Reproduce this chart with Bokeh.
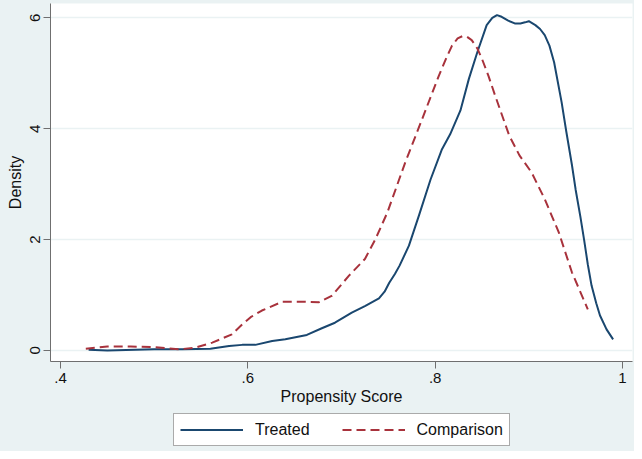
from bokeh.plotting import figure
from bokeh.models import Range1d, FixedTicker, Legend, LegendItem
from bokeh.layouts import column
from bokeh.embed import file_html
from bokeh.resources import INLINE

# Propensity score grid and kernel density values
treated_x = [0.43, 0.45, 0.48, 0.50, 0.53, 0.56, 0.58, 0.594, 0.608, 0.626, 0.640,
             0.663, 0.679, 0.693, 0.711, 0.725, 0.740, 0.746, 0.751, 0.757, 0.762,
             0.772, 0.783, 0.795, 0.807, 0.816, 0.827, 0.836, 0.845, 0.855, 0.861,
             0.866, 0.871, 0.878, 0.885, 0.891, 0.896, 0.900, 0.907, 0.912, 0.917,
             0.922, 0.927, 0.935, 0.940, 0.946, 0.950, 0.955, 0.959, 0.963, 0.967,
             0.972, 0.976, 0.983, 0.990]
treated_y = [0.01, 0.00, 0.01, 0.02, 0.02, 0.03, 0.08, 0.10, 0.10, 0.17, 0.20,
             0.28, 0.40, 0.50, 0.68, 0.80, 0.94, 1.06, 1.22, 1.38, 1.53,
             1.89, 2.45, 3.08, 3.62, 3.90, 4.33, 4.90, 5.38, 5.87, 6.00,
             6.05, 6.02, 5.95, 5.90, 5.90, 5.92, 5.94, 5.87, 5.80, 5.69,
             5.50, 5.20, 4.48, 3.95, 3.35, 2.90, 2.42, 2.00, 1.55, 1.17,
             0.85, 0.63, 0.38, 0.20]

comparison_x = [0.427, 0.450, 0.475, 0.498, 0.527, 0.544, 0.562, 0.583, 0.594,
                0.603, 0.615, 0.637, 0.655, 0.676, 0.690, 0.708, 0.725, 0.736,
                0.749, 0.768, 0.786, 0.804, 0.812, 0.818, 0.824, 0.829, 0.834,
                0.839, 0.845, 0.850, 0.857, 0.864, 0.879, 0.890, 0.903, 0.917,
                0.932, 0.946, 0.963]
comparison_y = [0.03, 0.07, 0.07, 0.06, 0.02, 0.05, 0.14, 0.29, 0.47,
                0.60, 0.72, 0.88, 0.88, 0.87, 0.99, 1.35, 1.65, 2.00,
                2.49, 3.39, 4.17, 4.96, 5.28, 5.50, 5.63, 5.67, 5.66,
                5.60, 5.45, 5.26, 4.95, 4.60, 3.88, 3.52, 3.21, 2.73,
                2.13, 1.41, 0.74]

x_ticks = [0.4, 0.6, 0.8, 1.0]
x_tick_labels = [".4", ".6", ".8", "1"]
y_ticks = [0, 2, 4, 6]

series_names = ["Treated", "Comparison"]
series_colors = ["#1a476f", "#a8323c"]
series_dash = ["solid", "9 5"]

FONT = "Liberation Sans"
BG = "#eaf2f3"

p = figure(width=634, height=413, output_backend="svg", toolbar_location=None,
           x_range=Range1d(0.3893, 1.0107), y_range=Range1d(-0.2, 6.26),
           min_border_left=50, min_border_right=2, min_border_top=3,
           min_border_bottom=52)
p.background_fill_color = "white"
p.border_fill_color = BG
p.outline_line_color = None

p.line(treated_x, treated_y, line_color=series_colors[0], line_width=2,
       line_join="round")
p.line(comparison_x, comparison_y, line_color=series_colors[1], line_width=2,
       line_dash=series_dash[1], line_join="round")

# axes
p.xaxis.ticker = FixedTicker(ticks=x_ticks)
p.xaxis.major_label_overrides = {t: l for t, l in zip(x_ticks, x_tick_labels)}
p.yaxis.ticker = FixedTicker(ticks=y_ticks)
p.yaxis.major_label_orientation = "vertical"
for ax in (p.xaxis[0], p.yaxis[0]):
    ax.axis_line_color = "#6f6f6f"
    ax.major_tick_line_color = "#6f6f6f"
    ax.minor_tick_line_color = None
    ax.major_tick_out = 7
    ax.major_tick_in = 0
    ax.major_label_text_font = FONT
    ax.major_label_text_font_size = "15px"
    ax.major_label_text_color = "#111111"
    ax.axis_label_text_font = FONT
    ax.axis_label_text_font_size = "16px"
    ax.axis_label_text_font_style = "normal"
    ax.axis_label_text_color = "#111111"
p.xaxis.axis_label = "Propensity Score"
p.yaxis.axis_label = "Density"
p.xaxis.major_label_standoff = 4
p.xaxis.axis_label_standoff = 2
p.yaxis.major_label_standoff = 3
p.yaxis.axis_label_standoff = 4

p.xgrid.grid_line_color = None
p.ygrid.grid_line_color = BG
p.ygrid.grid_line_width = 1.5

# legend strip below the chart (dummy renderers drawn outside its range)
lg = figure(width=634, height=38, output_backend="svg", toolbar_location=None,
            x_axis_type=None, y_axis_type=None,
            x_range=Range1d(0, 1), y_range=Range1d(0, 1),
            min_border_left=0, min_border_right=0, min_border_top=0,
            min_border_bottom=0)
lg.background_fill_color = BG
lg.border_fill_color = BG
lg.outline_line_color = None
lg.grid.visible = False
d1 = lg.line([-10, -9], [-10, -9], line_color=series_colors[0], line_width=2)
d2 = lg.line([-10, -9], [-10, -9], line_color=series_colors[1], line_width=2,
             line_dash=series_dash[1])

legend = Legend(items=[LegendItem(label=series_names[0], renderers=[d1]),
                       LegendItem(label=series_names[1], renderers=[d2])],
                orientation="horizontal", location=(123, 5))
legend.background_fill_color = "white"
legend.background_fill_alpha = 1
legend.border_line_color = "#555555"
legend.border_line_width = 1
legend.label_text_font = FONT
legend.label_text_font_size = "16px"
legend.label_text_color = "#111111"
legend.glyph_width = 63
legend.glyph_height = 19
legend.label_height = 19
legend.label_standoff = 12
legend.spacing = 32
legend.padding = 6
legend.margin = 0
lg.add_layout(legend, "center")

layout = column(p, lg, spacing=0)
layout.styles = {"background-color": BG}

open("out.html", "w").write(file_html(layout, INLINE))
